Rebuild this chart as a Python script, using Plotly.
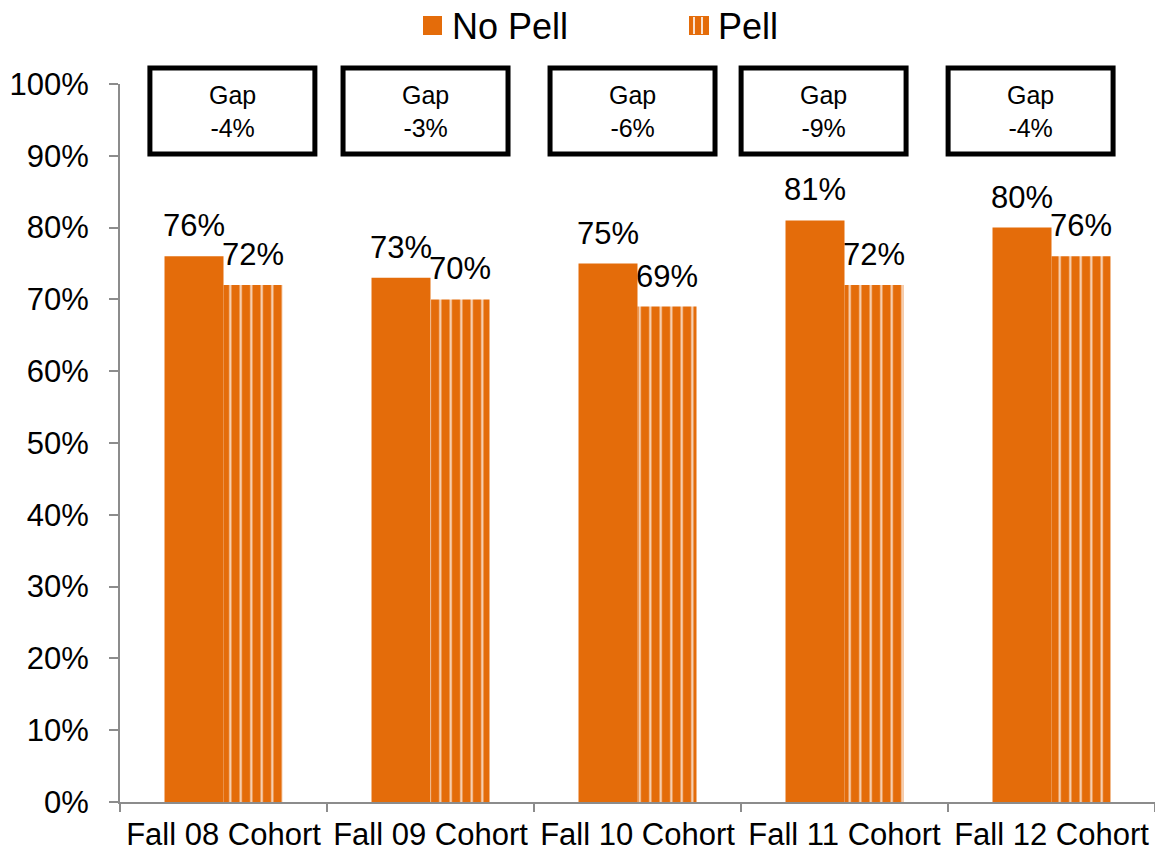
import plotly.graph_objects as go

categories = ["Fall 08 Cohort", "Fall 09 Cohort", "Fall 10 Cohort", "Fall 11 Cohort", "Fall 12 Cohort"]
series_names = ["No Pell", "Pell"]
no_pell = [0.76, 0.73, 0.75, 0.81, 0.80]
pell = [0.72, 0.70, 0.69, 0.72, 0.76]
y_ticks = [0, 0.1, 0.2, 0.3, 0.4, 0.5, 0.6, 0.7, 0.8, 0.9, 1.0]
y_tick_labels = ["0%", "10%", "20%", "30%", "40%", "50%", "60%", "70%", "80%", "90%", "100%"]
box_offsets = [0.043, -0.024, -0.024, -0.101, -0.101]

ORANGE = "#E46C0A"
FONT = "Liberation Sans, Arial, sans-serif"
W, H = 1155, 854
ML, MR, MT, MB = 120, 0, 84, 52
PW, PH = W - ML - MR, H - MT - MB


def px(x):
    return (x - ML) / PW


def py(y):
    return (H - MB - y) / PH


fig = go.Figure()
fig.add_trace(go.Bar(
    name=series_names[0], x=categories, y=no_pell,
    marker=dict(color=ORANGE, line=dict(width=0)),
))
fig.add_trace(go.Bar(
    name=series_names[1], x=categories, y=pell,
    marker=dict(color=ORANGE, line=dict(width=0),
                pattern=dict(shape="|", size=10.5, solidity=0.2, fgcolor="white",
                             bgcolor=ORANGE, fgopacity=0.75)),
))

# data labels
for vals, shift in ((no_pell, -29.5), (pell, 29.5)):
    for c, v in zip(categories, vals):
        fig.add_annotation(xref="x", yref="y", x=c, y=v, xshift=shift, yshift=11,
                           text=f"{round(v * 100)}%", showarrow=False, yanchor="bottom",
                           font=dict(size=31, color="black", family=FONT))

# gap boxes
box_w = 0.797
for i, (a, b) in enumerate(zip(no_pell, pell)):
    gap = round((b - a) * 100)
    cx = i + box_offsets[i]
    fig.add_shape(type="rect", xref="x", yref="paper",
                  x0=cx - box_w / 2, x1=cx + box_w / 2, y0=py(154), y1=py(68),
                  line=dict(color="black", width=5), fillcolor="white", layer="above")
    fig.add_annotation(xref="x", yref="paper", x=cx, y=py(112), yanchor="middle",
                       text=f"Gap<br>{gap}%", showarrow=False,
                       font=dict(size=25, color="black", family=FONT))

# custom legend
fig.add_shape(type="rect", xref="paper", yref="paper",
              x0=px(423), x1=px(442), y0=py(35), y1=py(16),
              line=dict(width=0), fillcolor=ORANGE)
fig.add_shape(type="rect", xref="paper", yref="paper",
              x0=px(689), x1=px(709), y0=py(35), y1=py(16),
              line=dict(width=0), fillcolor=ORANGE)
for sx in (694, 702):
    fig.add_shape(type="line", xref="paper", yref="paper",
                  x0=px(sx), x1=px(sx), y0=py(34), y1=py(17),
                  line=dict(color="rgba(255,255,255,0.8)", width=2))
fig.add_annotation(xref="paper", yref="paper", x=px(450), y=py(26), xanchor="left",
                   yanchor="middle", text=series_names[0], showarrow=False,
                   font=dict(size=36, color="black", family=FONT))
fig.add_annotation(xref="paper", yref="paper", x=px(716), y=py(26), xanchor="left",
                   yanchor="middle", text=series_names[1], showarrow=False,
                   font=dict(size=36, color="black", family=FONT))

fig.update_layout(
    width=W, height=H,
    margin=dict(l=ML, r=MR, t=MT, b=MB, autoexpand=False),
    plot_bgcolor="white", paper_bgcolor="white",
    barmode="group", bargap=0.43, bargroupgap=0,
    font=dict(family=FONT, size=31, color="black"),
    showlegend=False,
    xaxis=dict(range=[-0.5, 4.5], showline=True, linecolor="#8c8c8c", linewidth=2,
               ticks="outside", tickson="boundaries", ticklen=8, tickcolor="#8c8c8c",
               tickwidth=2, tickangle=0, tickfont=dict(size=31, family=FONT, color="black"),
               ticklabelstandoff=4, automargin=False, showgrid=False),
    yaxis=dict(range=[0, 1], showline=True, linecolor="#8c8c8c", linewidth=2,
               ticks="outside", ticklen=9, tickcolor="#8c8c8c", tickwidth=2,
               tickvals=y_ticks, ticktext=y_tick_labels,
               tickfont=dict(size=31, family=FONT, color="black"),
               ticklabelstandoff=14, automargin=False,
               showgrid=False, zeroline=False),
)

fig.write_html("out.html", config={"displayModeBar": False},
               post_script="document.body.style.margin='0';")
